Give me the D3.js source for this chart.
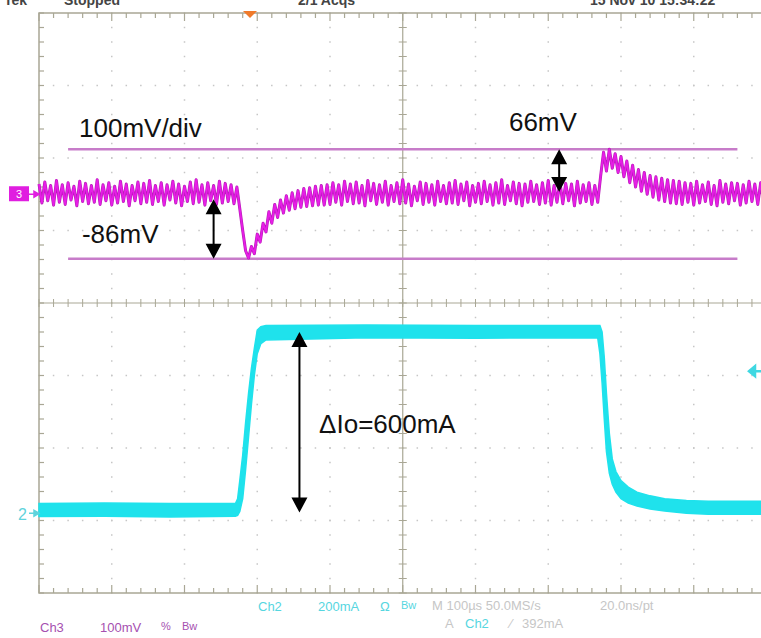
<!DOCTYPE html>
<html>
<head>
<meta charset="utf-8">
<script src="https://cdn.jsdelivr.net/npm/d3@7"></script>
<style>
  html, body { margin: 0; padding: 0; background: #fff; }
  svg { display: block; font-family: "Liberation Sans", Arial, sans-serif; }
</style>
</head>
<body>
<div id="scope"></div>
<script>
(function () {
// time base 100us/div, 10 div; all times in us from the left edge of the screen
// Ch3: output voltage ripple (mV), one sample every ch3Step us
const ch3Step = 4;
const ch3Values = [
  14,-12,17,-9,12,-15,19,-11,13,-14,
  16,-8,11,-16,18,-10,15,-13,12,-11,
  20,-14,13,-9,16,-15,11,-12,18,-10,
  14,-16,12,-9,17,-13,15,-11,19,-14,
  12,-10,16,-15,13,-8,18,-12,14,-16,
  11,-10,17,-13,20,-11,13,-15,16,-9,
  12,-14,18,-12,15,-10,13,-13,10,
  // load step: undershoot
  -20,-50,-78,-88,-72,-82,-55,-66,-40,-52,
  -24,-40,-14,-32,-8,-26,-2,-22,2,-20,
  5,-18,8,-17,9,-16,11,-15,12,-15,13,
  -14,16,-11,13,-15,18,-10,14,-13,17,
  -12,12,-16,19,-9,15,-14,13,-11,18,
  -15,12,-10,16,-13,20,-12,14,-16,11,
  -9,17,-14,15,-11,13,-15,18,-10,12,
  -13,16,-12,19,-14,14,-9,17,-16,12,
  -11,15,-13,18,-10,13,-15,16,-12,20,
  -14,12,-9,17,-13,15,-16,14,-11,18,
  -10,13,-14,16,-12,19,-15,12,-11,17,
  -13,15,-9,14,-16,18,-12,13,-10,16,
  -14,12,-11,
  // load release: overshoot
  25,58,32,62,36,56,30,52,24,46,
  16,40,10,34,4,30,0,26,-4,24,
  -8,22,-10,20,-12,19,-13,18,
  -14,16,-11,15,-15,18,-12,13,-10,17,
  -14,12,-16,19,-11,14,-13,16,-9,15,
  -15,13,-12,18,-10,14,-14,16,-11
];

// Ch2: load current (mA), drawn as a band between low and high envelope
const ch2Time = [0, 90, 180, 270, 273, 276, 280, 284, 288, 292, 296, 300, 305, 312, 450, 600, 768,
  771, 774, 777, 780, 784, 788, 793, 800, 810, 822, 840, 860, 890, 920, 1000];
const ch2Low  = [-9, -8, -10, -8, -6, 5, 40, 120, 210, 300, 380, 440, 468, 478, 484, 483, 484,
  440, 360, 260, 170, 110, 80, 58, 40, 28, 20, 12, 6, 0, -3, -3];
const ch2High = [27, 28, 27, 27, 40, 90, 160, 250, 330, 400, 455, 505, 515, 518, 519, 518, 518,
  518, 500, 430, 330, 220, 150, 115, 90, 72, 58, 48, 40, 35, 33, 33];

// cursor lines (mV on Ch3)
const refLevels = [62, -89];

// annotations: arrows and labels, in channel units
const arrows = [
  { ch: 3, t: 715, from: 62, to: 3 },
  { ch: 3, t: 240, from: -7, to: -89 },
  { ch: 2, t: 358, from: 500, to: 2 }
];
const labels = [
  { ch: 3, t: 55, v: 79, text: "100mV/div" },
  { ch: 3, t: 646, v: 87, text: "66mV" },
  { ch: 3, t: 59, v: -67, text: "-86mV" },
  { ch: 2, t: 385, v: 221, text: "\u0394Io=600mA" }
];

const trigTime = 290;
const ch2TrigLevel = 392;

const width = 761, height = 638;
const left = 39, top = 13, divW = 72.75, divH = 72.5;

const svg = d3.select("#scope").append("svg")
  .attr("width", width)
  .attr("height", height);

const x = d3.scaleLinear().domain([0, 1000]).range([left, left + 10 * divW]);
const yDiv = d3.scaleLinear().domain([4, -4]).range([top, top + 8 * divH]);
// Ch3 ground at +1.5 div, 100mV/div ; Ch2 ground at -2.9 div, 200mA/div
const y3 = d3.scaleLinear().domain([-550, 250]).range([yDiv(-4), yDiv(4)]);
const y2 = d3.scaleLinear().domain([-220, 1380]).range([yDiv(-4), yDiv(4)]);

const gridColor = "#a9a795";
const dotColor = "#c6c6c6";
const g = svg.append("g");

// dotted graticule
const minorT = d3.range(0, 1001, 20);
const minorV = d3.range(-4, 4.01, 0.2);
[1, 2, 3, 4, 6, 7, 8, 9].forEach(d => {
  g.selectAll(null).data(minorV).enter().append("rect")
    .attr("x", x(d * 100) - 0.75).attr("y", v => yDiv(v) - 0.75)
    .attr("width", 1.5).attr("height", 1.5).attr("fill", dotColor);
});
[-3, -2, -1, 1, 2, 3].forEach(d => {
  g.selectAll(null).data(minorT).enter().append("rect")
    .attr("x", t => x(t) - 0.75).attr("y", yDiv(d) - 0.75)
    .attr("width", 1.5).attr("height", 1.5).attr("fill", dotColor);
});

// border
g.append("rect")
  .attr("x", x(0)).attr("y", yDiv(4))
  .attr("width", x(1000) - x(0)).attr("height", yDiv(-4) - yDiv(4))
  .attr("fill", "none").attr("stroke", gridColor).attr("stroke-width", 1.5);

// center axes
g.append("line").attr("x1", x(500)).attr("x2", x(500)).attr("y1", yDiv(4)).attr("y2", yDiv(-4))
  .attr("stroke", gridColor).attr("stroke-width", 1.2);
g.append("line").attr("x1", x(0)).attr("x2", x(1000)).attr("y1", yDiv(0)).attr("y2", yDiv(0))
  .attr("stroke", gridColor).attr("stroke-width", 1.2);

// ticks on center axes and border
g.selectAll(null).data(minorT).enter().append("line")
  .attr("x1", x).attr("x2", x)
  .attr("y1", yDiv(0) - 4).attr("y2", yDiv(0) + 4)
  .attr("stroke", gridColor);
g.selectAll(null).data(minorV).enter().append("line")
  .attr("x1", x(500) - 4).attr("x2", x(500) + 4)
  .attr("y1", yDiv).attr("y2", yDiv)
  .attr("stroke", gridColor);
g.selectAll(null).data(minorT).enter().append("line")
  .attr("x1", x).attr("x2", x)
  .attr("y1", yDiv(4)).attr("y2", t => yDiv(4) + (t % 100 === 0 ? 8 : 5))
  .attr("stroke", gridColor).attr("stroke-width", 1.2);
g.selectAll(null).data(minorT).enter().append("line")
  .attr("x1", x).attr("x2", x)
  .attr("y1", yDiv(-4)).attr("y2", t => yDiv(-4) - (t % 100 === 0 ? 8 : 5))
  .attr("stroke", gridColor).attr("stroke-width", 1.2);
g.selectAll(null).data(minorV).enter().append("line")
  .attr("x1", x(0)).attr("x2", x(0) + 5)
  .attr("y1", yDiv).attr("y2", yDiv)
  .attr("stroke", gridColor).attr("stroke-width", 1.2);

// cursor lines
svg.selectAll(null).data(refLevels).enter().append("line")
  .attr("x1", x(40)).attr("x2", x(960))
  .attr("y1", y3).attr("y2", y3)
  .attr("stroke", "#c77cc9").attr("stroke-width", 2.5);

// Ch2 trace
const cyan = "#1fe2ec";
const ch2 = ch2Time.map((t, i) => ({ t, lo: ch2Low[i], hi: ch2High[i] }));
svg.append("path")
  .datum(ch2)
  .attr("d", d3.area().x(d => x(d.t)).y0(d => y2(d.lo)).y1(d => y2(d.hi)))
  .attr("fill", cyan).attr("stroke", cyan).attr("stroke-width", 1.5);

// Ch3 trace
const ch3 = ch3Values.map((v, i) => ({ t: i * ch3Step, v }));
const ch3Line = d3.line().x(d => x(d.t)).y(d => y3(d.v));
svg.append("path")
  .datum(ch3)
  .attr("d", ch3Line)
  .attr("fill", "none").attr("stroke", "#b81cb8").attr("stroke-width", 3)
  .attr("stroke-linejoin", "round");
svg.append("path")
  .datum(ch3)
  .attr("d", ch3Line)
  .attr("fill", "none").attr("stroke", "#e61ee6").attr("stroke-width", 1.8)
  .attr("stroke-linejoin", "round");

// channel markers
svg.append("rect").attr("x", 9).attr("y", y3(0) - 8).attr("width", 20).attr("height", 15)
  .attr("fill", "#e01ee0");
svg.append("text").attr("x", 19).attr("y", y3(0) + 4).attr("text-anchor", "middle")
  .attr("fill", "#fff").attr("font-size", 11).text("3");
svg.append("path")
  .attr("d", `M29,${y3(0)} L${x(0)},${y3(0)} M${x(0)},${y3(0)} l-5,-3 l0,6 z`)
  .attr("stroke", "#e01ee0").attr("fill", "#e01ee0").attr("stroke-width", 1.5);
svg.append("text").attr("x", 18).attr("y", y2(0) + 7).attr("fill", "#5fd3dc")
  .attr("font-size", 16).text("2");
svg.append("path")
  .attr("d", `M29,${y2(0)} L${x(0)},${y2(0)} M${x(0)},${y2(0)} l-5,-3 l0,6 z`)
  .attr("stroke", "#5fd3dc").attr("fill", "#5fd3dc").attr("stroke-width", 1.5);
// Ch2 trigger level, right edge
svg.append("path")
  .attr("d", `M749,${y2(ch2TrigLevel)} l6,-5 l0,10 z M754,${y2(ch2TrigLevel)} L761,${y2(ch2TrigLevel)}`)
  .attr("stroke", "#3fd8e2").attr("fill", "#3fd8e2").attr("stroke-width", 2.5);
// trigger position
svg.append("path")
  .attr("d", `M${x(trigTime) - 7},${top - 2} L${x(trigTime) + 7},${top - 2} L${x(trigTime)},${top + 5} Z`)
  .attr("fill", "#f07a2a");

// annotation arrows
const ay = d => d.ch === 3 ? y3 : y2;
arrows.forEach(a => {
  const ax = x(a.t), y1 = ay(a)(a.from), yb = ay(a)(a.to);
  svg.append("line").attr("x1", ax).attr("x2", ax).attr("y1", y1 + 8).attr("y2", yb - 8)
    .attr("stroke", "#000").attr("stroke-width", 2);
  svg.append("path")
    .attr("d", `M${ax},${y1} l-8,15 l16,0 Z M${ax},${yb} l-8,-15 l16,0 Z`)
    .attr("fill", "#000");
});
svg.selectAll(null).data(labels).enter().append("text")
  .attr("x", d => x(d.t)).attr("y", d => ay(d)(d.v))
  .attr("font-size", 26).attr("fill", "#111")
  .text(d => d.text);

// status lines (top one is cut by the picture edge, as in the screenshot)
const status = [
  { x: 4, y: 5, c: "#444", s: "Tek" },
  { x: 64, y: 5, c: "#444", s: "Stopped" },
  { x: 298, y: 5, c: "#444", s: "2/1 Acqs" },
  { x: 590, y: 5, c: "#444", s: "15 Nov 10 15:34:22" },
  { x: 40, y: 632, c: "#a650b0", s: "Ch3" },
  { x: 100, y: 632, c: "#a650b0", s: "100mV" },
  { x: 161, y: 630, c: "#a650b0", s: "%" },
  { x: 182, y: 630, c: "#a650b0", s: "Bw" },
  { x: 258, y: 611, c: "#56d6df", s: "Ch2" },
  { x: 318, y: 611, c: "#56d6df", s: "200mA" },
  { x: 380, y: 611, c: "#56d6df", s: "\u03a9" },
  { x: 401, y: 609, c: "#56d6df", s: "Bw" },
  { x: 432, y: 610, c: "#c6c6c6", s: "M 100\u00b5s 50.0MS/s" },
  { x: 600, y: 610, c: "#c6c6c6", s: "20.0ns/pt" },
  { x: 445, y: 628, c: "#c6c6c6", s: "A" },
  { x: 465, y: 628, c: "#56d6df", s: "Ch2" },
  { x: 510, y: 628, c: "#c6c6c6", s: "\u2044" },
  { x: 522, y: 628, c: "#c6c6c6", s: "392mA" }
];
svg.selectAll(null).data(status).enter().append("text")
  .attr("x", d => d.x).attr("y", d => d.y)
  .attr("fill", d => d.c)
  .attr("font-size", d => d.y < 20 ? 14 : (d.s === "Bw" || d.s === "%" ? 11 : 13))
  .attr("font-weight", d => d.y < 20 ? "bold" : "normal")
  .text(d => d.s);
})();
</script>
</body>
</html>
